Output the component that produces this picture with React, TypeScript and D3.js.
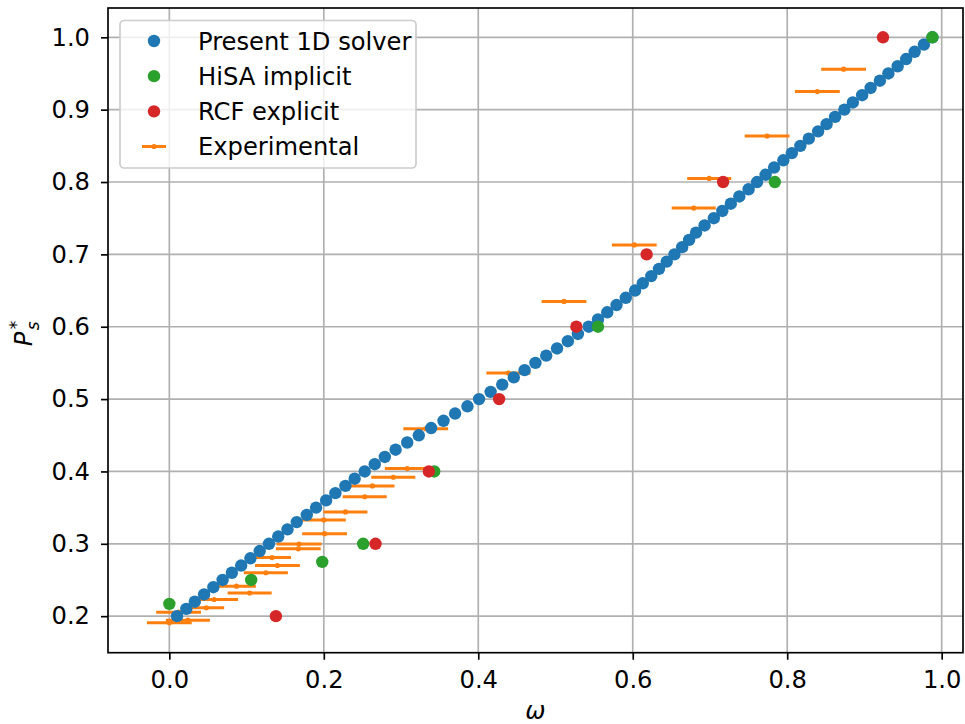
import React, { useEffect, useRef } from 'react'
import * as d3 from 'd3'

// Present 1D solver
const solverOmega = [
  0.010, 0.022, 0.033, 0.045, 0.057, 0.069, 0.081, 0.093, 0.105, 0.117,
  0.129, 0.141, 0.153, 0.165, 0.178, 0.190, 0.203, 0.215, 0.228, 0.240,
  0.253, 0.266, 0.279, 0.293, 0.308, 0.323, 0.339, 0.355, 0.370, 0.386,
  0.401, 0.416, 0.431, 0.446, 0.460, 0.474, 0.488, 0.502, 0.516, 0.529,
  0.543, 0.555, 0.567, 0.579, 0.591, 0.603, 0.613, 0.624, 0.634, 0.644,
  0.654, 0.664, 0.673, 0.682, 0.693, 0.705, 0.716, 0.727, 0.738, 0.750,
  0.761, 0.772, 0.783, 0.795, 0.806, 0.817, 0.828, 0.840, 0.851, 0.862,
  0.874, 0.885, 0.897, 0.908, 0.920, 0.931, 0.943, 0.954, 0.965, 0.977,
  0.988
]
const solverPs = [
  0.20, 0.21, 0.22, 0.23, 0.24, 0.25, 0.26, 0.27, 0.28, 0.29,
  0.30, 0.31, 0.32, 0.33, 0.34, 0.35, 0.36, 0.37, 0.38, 0.39,
  0.40, 0.41, 0.42, 0.43, 0.44, 0.45, 0.46, 0.47, 0.48, 0.49,
  0.50, 0.51, 0.52, 0.53, 0.54, 0.55, 0.56, 0.57, 0.58, 0.59,
  0.60, 0.61, 0.62, 0.63, 0.64, 0.65, 0.66, 0.67, 0.68, 0.69,
  0.70, 0.71, 0.72, 0.73, 0.74, 0.75, 0.76, 0.77, 0.78, 0.79,
  0.80, 0.81, 0.82, 0.83, 0.84, 0.85, 0.86, 0.87, 0.88, 0.89,
  0.90, 0.91, 0.92, 0.93, 0.94, 0.95, 0.96, 0.97, 0.98, 0.99,
  1.00
]

// HiSA implicit
const hisaOmega = [0.0, 0.106, 0.198, 0.251, 0.343, 0.555, 0.784, 0.988]
const hisaPs = [0.217, 0.25, 0.275, 0.30, 0.40, 0.60, 0.80, 1.00]

// RCF explicit
const rcfOmega = [0.138, 0.267, 0.336, 0.427, 0.527, 0.618, 0.717, 0.924]
const rcfPs = [0.20, 0.30, 0.40, 0.50, 0.60, 0.70, 0.80, 1.00]

// Experimental (with horizontal error)
const expOmega = [
  0.000, 0.024, 0.012, 0.048, 0.058, 0.104, 0.087, 0.125, 0.140, 0.133,
  0.167, 0.168, 0.201, 0.200, 0.228, 0.253, 0.263, 0.290, 0.308, 0.332,
  0.439, 0.511, 0.602, 0.679, 0.699, 0.774, 0.839, 0.873
]
const expPs = [
  0.191, 0.1945, 0.2055, 0.2116, 0.223, 0.232, 0.2415, 0.260, 0.270, 0.281,
  0.293, 0.2996, 0.314, 0.333, 0.344, 0.365, 0.380, 0.392, 0.404, 0.459,
  0.536, 0.635, 0.713, 0.764, 0.805, 0.8635, 0.925, 0.956
]
const expErr = [
  0.029, 0.0285, 0.029, 0.023, 0.031, 0.0285, 0.025, 0.0285, 0.029, 0.0245,
  0.029, 0.029, 0.029, 0.0285, 0.0285, 0.0285, 0.0285, 0.0285, 0.029, 0.029,
  0.0285, 0.029, 0.029, 0.0285, 0.0285, 0.029, 0.029, 0.029
]

const xTicks = [0.0, 0.2, 0.4, 0.6, 0.8, 1.0]
const yTicks = [0.2, 0.3, 0.4, 0.5, 0.6, 0.7, 0.8, 0.9, 1.0]

const legendLabels = ['Present 1D solver', 'HiSA implicit', 'RCF explicit', 'Experimental']

const BLUE = '#1f77b4'
const GREEN = '#2ca02c'
const RED = '#d62728'
const ORANGE = '#ff7f0e'
const FONT = 'DejaVu Sans, sans-serif'
const FS = 24.2

const App = () => {
  const ref = useRef<SVGSVGElement>(null)

  useEffect(() => {
    document.body.style.margin = '0'
    drawChart()
  }, [])

  const drawChart = () => {
    const width = 965
    const height = 724
    const left = 108
    const right = 963
    const top = 8
    const bottom = 652.7

    const svg = d3.select(ref.current)
    svg.selectAll('*').remove()

    const xScale = d3.scaleLinear().domain([-0.0794, 1.0276]).range([left, right])
    const yScale = d3.scaleLinear().domain([0.1495, 1.0405]).range([bottom, top])

    svg.append('rect').attr('width', width).attr('height', height).attr('fill', 'white')

    svg.append('clipPath').attr('id', 'plotclip')
      .append('rect')
      .attr('x', left).attr('y', top)
      .attr('width', right - left).attr('height', bottom - top)

    // grid
    const grid = svg.append('g')
    grid.selectAll('line.gx')
      .data(xTicks)
      .enter()
      .append('line')
      .attr('x1', d => xScale(d)).attr('x2', d => xScale(d))
      .attr('y1', top).attr('y2', bottom)
      .attr('stroke', '#b0b0b0').attr('stroke-width', 1.67)
    grid.selectAll('line.gy')
      .data(yTicks)
      .enter()
      .append('line')
      .attr('y1', d => yScale(d)).attr('y2', d => yScale(d))
      .attr('x1', left).attr('x2', right)
      .attr('stroke', '#b0b0b0').attr('stroke-width', 1.67)

    const plot = svg.append('g').attr('clip-path', 'url(#plotclip)')

    // experimental error bars
    const expData = expOmega.map((x, i) => ({ x, y: expPs[i], e: expErr[i] }))
    plot.selectAll('line.err')
      .data(expData)
      .enter()
      .append('line')
      .attr('x1', d => xScale(d.x - d.e))
      .attr('x2', d => xScale(d.x + d.e))
      .attr('y1', d => yScale(d.y))
      .attr('y2', d => yScale(d.y))
      .attr('stroke', ORANGE)
      .attr('stroke-width', 3)
    plot.selectAll('circle.expdot')
      .data(expData)
      .enter()
      .append('circle')
      .attr('cx', d => xScale(d.x))
      .attr('cy', d => yScale(d.y))
      .attr('r', 2.6)
      .attr('fill', ORANGE)

    const dots = (xs: number[], ys: number[], color: string) => {
      plot.append('g')
        .selectAll('circle')
        .data(xs.map((x, i) => [x, ys[i]]))
        .enter()
        .append('circle')
        .attr('cx', d => xScale(d[0]))
        .attr('cy', d => yScale(d[1]))
        .attr('r', 6.2)
        .attr('fill', color)
    }
    dots(solverOmega, solverPs, BLUE)
    dots(hisaOmega, hisaPs, GREEN)
    dots(rcfOmega, rcfPs, RED)

    // axes
    const xAxis = d3.axisBottom(xScale)
      .tickValues(xTicks)
      .tickFormat(d3.format('.1f'))
      .tickSize(7)
      .tickSizeOuter(0)
      .tickPadding(11)
    const yAxis = d3.axisLeft(yScale)
      .tickValues(yTicks)
      .tickFormat(d3.format('.1f'))
      .tickSize(7)
      .tickSizeOuter(0)
      .tickPadding(11)

    const gx = svg.append('g')
      .attr('transform', `translate(0, ${bottom})`)
      .call(xAxis)
    const gy = svg.append('g')
      .attr('transform', `translate(${left}, 0)`)
      .call(yAxis)
    ;[gx, gy].forEach(g => {
      g.select('.domain').remove()
      g.selectAll('line').attr('stroke', 'black').attr('stroke-width', 1.67)
      g.selectAll('text')
        .attr('fill', 'black')
        .style('font-family', FONT)
        .style('font-size', FS + 'px')
    })

    // spines
    svg.append('rect')
      .attr('x', left).attr('y', top)
      .attr('width', right - left).attr('height', bottom - top)
      .attr('fill', 'none')
      .attr('stroke', 'black')
      .attr('stroke-width', 1.67)

    // axis labels
    svg.append('text')
      .attr('x', (left + right) / 2)
      .attr('y', 719)
      .attr('text-anchor', 'middle')
      .style('font-family', FONT)
      .style('font-size', FS + 'px')
      .style('font-style', 'italic')
      .text('ω')

    const yl = svg.append('g')
      .attr('transform', `translate(32, ${(top + bottom) / 2}) rotate(-90)`)
    yl.append('text')
      .attr('x', -16).attr('y', 0)
      .style('font-family', FONT)
      .style('font-size', FS + 'px')
      .style('font-style', 'italic')
      .text('P')
    yl.append('text')
      .attr('x', 1).attr('y', -10)
      .style('font-family', FONT)
      .style('font-size', '17px')
      .text('*')
    yl.append('text')
      .attr('x', 0).attr('y', 7)
      .style('font-family', FONT)
      .style('font-size', '17px')
      .style('font-style', 'italic')
      .text('s')

    // legend
    const lg = svg.append('g')
    lg.append('rect')
      .attr('x', 120).attr('y', 20.5)
      .attr('width', 296).attr('height', 147.5)
      .attr('rx', 4)
      .attr('fill', 'white')
      .attr('fill-opacity', 0.8)
      .attr('stroke', '#cccccc')
      .attr('stroke-width', 1.67)

    const rowY = d3.scaleLinear().domain([0, 3]).range([41, 146.5])
    const colors = [BLUE, GREEN, RED]
    lg.selectAll('circle.lm')
      .data(colors)
      .enter()
      .append('circle')
      .attr('cx', 154)
      .attr('cy', (d, i) => rowY(i))
      .attr('r', 6.2)
      .attr('fill', d => d)
    lg.append('line')
      .attr('x1', 142).attr('x2', 166)
      .attr('y1', rowY(3)).attr('y2', rowY(3))
      .attr('stroke', ORANGE).attr('stroke-width', 3)
    lg.append('circle')
      .attr('cx', 154).attr('cy', rowY(3)).attr('r', 2.6).attr('fill', ORANGE)
    lg.selectAll('text.ll')
      .data(legendLabels)
      .enter()
      .append('text')
      .attr('x', 198)
      .attr('y', (d, i) => rowY(i))
      .attr('dy', '0.36em')
      .style('font-family', FONT)
      .style('font-size', FS + 'px')
      .text(d => d)
  }

  return (
    <svg ref={ref} width={965} height={724} style={{ display: 'block' }}></svg>
  )
}

export default App
